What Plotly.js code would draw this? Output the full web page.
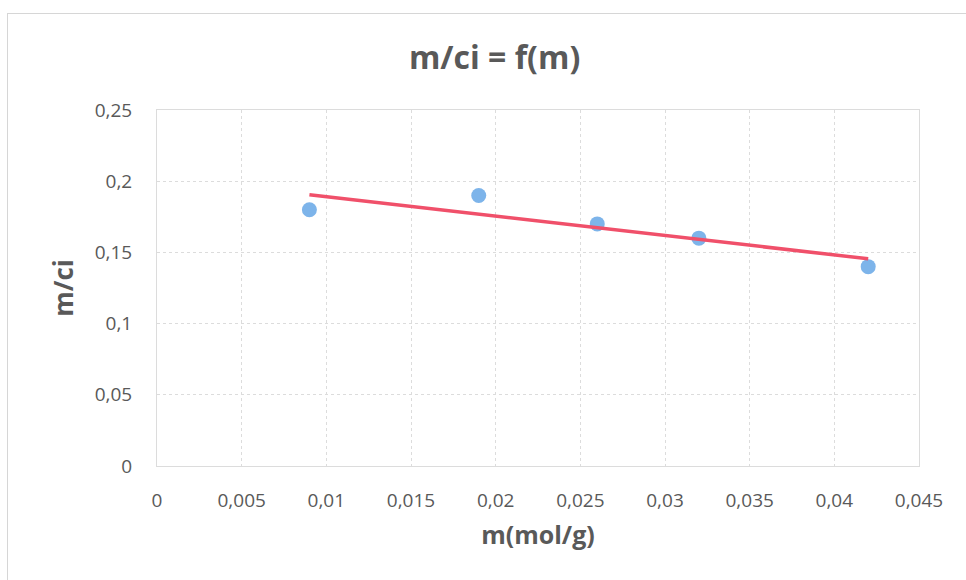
<!DOCTYPE html>
<html>
<head>
<meta charset="utf-8">
<script src="https://cdn.plot.ly/plotly-3.0.1.min.js"></script>
<style>
  html, body { margin: 0; padding: 0; background: #fff; }
  #frame { position: absolute; left: 7px; top: 13px; width: 966px; height: 580px; border: 1px solid #d6d6d6; box-sizing: border-box; pointer-events: none; z-index: 5; }
  #chart { position: absolute; left: 0; top: 0; width: 966px; height: 580px; }
</style>
</head>
<body>
<div id="chart"></div>
<div id="frame"></div>
<script>
// Data
const mValues = [0.009, 0.019, 0.026, 0.032, 0.042];
const mciValues = [0.18, 0.19, 0.17, 0.16, 0.14];
// Linear trend line (as drawn in the reference)
const trendX = [0.009, 0.042];
const trendY = [0.1905, 0.1455];
const xTickVals = [0, 0.005, 0.01, 0.015, 0.02, 0.025, 0.03, 0.035, 0.04, 0.045];
const xTickText = ['0', '0,005', '0,01', '0,015', '0,02', '0,025', '0,03', '0,035', '0,04', '0,045'];
const yTickVals = [0, 0.05, 0.1, 0.15, 0.2, 0.25];
const yTickText = ['0', '0,05', '0,1', '0,15', '0,2', '0,25'];

const font = 'Open Sans, Lato, sans-serif';
const textColor = '#595959';
const gridColor = '#dcdcdc';

const traces = [
  {
    x: mValues, y: mciValues, type: 'scatter', mode: 'markers',
    marker: { color: '#7db4ea', size: 15, line: { width: 0 } },
    name: 'm/ci', showlegend: false, hoverinfo: 'x+y'
  },
  {
    x: trendX, y: trendY, type: 'scatter', mode: 'lines',
    line: { color: '#f0506a', width: 3.5 },
    name: 'Tendance', showlegend: false, hoverinfo: 'skip'
  }
];

const layout = {
  width: 966, height: 580,
  margin: { l: 157, r: 47, t: 110, b: 114 },
  paper_bgcolor: '#ffffff', plot_bgcolor: '#ffffff',
  font: { family: font, color: textColor, size: 19 },
  title: {
    text: '<b>m/ci = f(m)</b>',
    font: { family: font, size: 32, color: textColor },
    x: 0.512, xanchor: 'center', y: 0.9, yanchor: 'middle', yref: 'container'
  },
  xaxis: {
    range: [0, 0.045],
    tickvals: xTickVals, ticktext: xTickText,
    showgrid: true, gridcolor: gridColor, griddash: 'dot', gridwidth: 1,
    showline: true, linecolor: gridColor, mirror: true, linewidth: 1,
    zeroline: false, ticks: '', ticklen: 0, ticklabelstandoff: 17,
    tickfont: { family: font, size: 19, color: textColor },
    title: { text: '<b>m(mol/g)</b>', font: { family: font, size: 25, color: textColor }, standoff: 14 }
  },
  yaxis: {
    range: [0, 0.25],
    tickvals: yTickVals, ticktext: yTickText,
    showgrid: true, gridcolor: gridColor, griddash: 'dot', gridwidth: 1,
    showline: true, linecolor: gridColor, mirror: true, linewidth: 1,
    zeroline: false, ticks: '', ticklen: 0, ticklabelstandoff: 20,
    tickfont: { family: font, size: 19, color: textColor },
    title: { text: '<b>m/ci</b>', font: { family: font, size: 26, color: textColor }, standoff: 13 }
  }
};

Plotly.newPlot('chart', traces, layout, { displayModeBar: false, staticPlot: true });
</script>
</body>
</html>
